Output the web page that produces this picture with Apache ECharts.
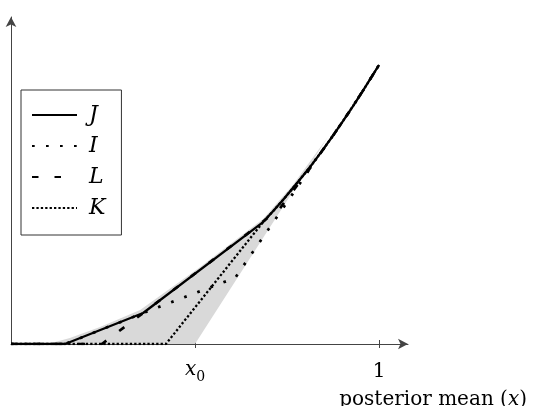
<!DOCTYPE html>
<html>
<head>
<meta charset="utf-8">
<script src="https://cdn.jsdelivr.net/npm/echarts@6/dist/echarts.min.js"></script>
<style>html,body{margin:0;padding:0;background:#fff}#c{width:533px;height:406px}</style>
</head>
<body>
<div id="c"></div>
<script>
// ---- data (x: posterior mean, y: value) ----
const jX = [0, 0.147, 0.359, 0.685, 0.712, 0.739, 0.766, 0.7935, 0.821, 0.848, 0.875, 0.902, 0.929, 0.9565, 1.0];
const jY = [0, 0, 0.111, 0.437, 0.476, 0.516, 0.559, 0.603, 0.649, 0.697, 0.747, 0.799, 0.852, 0.908, 1.0];
const iX = [0, 0.147, 0.359, 0.609, 0.800, 0.821, 0.848, 0.875, 0.902, 0.929, 0.9565, 1.0];
const iY = [0, 0, 0.111, 0.237, 0.604, 0.649, 0.697, 0.747, 0.799, 0.852, 0.908, 1.0];
const lX = [0, 0.247, 0.359, 0.663, 0.731, 0.8125, 0.848, 0.875, 0.902, 0.929, 0.9565, 1.0];
const lY = [0, 0, 0.111, 0.416, 0.487, 0.630, 0.697, 0.747, 0.799, 0.852, 0.908, 1.0];
const kX = [0, 0.421, 0.685, 0.712, 0.739, 0.766, 0.7935, 0.821, 0.848, 0.875, 0.902, 0.929, 0.9565, 1.0];
const kY = [0, 0, 0.437, 0.476, 0.516, 0.559, 0.603, 0.649, 0.697, 0.747, 0.799, 0.852, 0.908, 1.0];
// shaded region: upper-left boundary, then straight lower-right boundary
const gUpX = [0.087, 0.12, 0.16, 0.242, 0.351, 0.514, 0.685, 0.766, 0.861];
const gUpY = [0, 0.007, 0.0215, 0.061, 0.122, 0.276, 0.448, 0.570, 0.742];
const gLowX = [0.861, 0.5];
const gLowY = [0.742, 0];
const tickValues = [0.5, 1];
const seriesNames = ['J', 'I', 'L', 'K'];

function pairs(xs, ys) { return xs.map((x, k) => [x, ys[k]]); }

const serif = 'DejaVu Serif';
const chart = echarts.init(document.getElementById('c'), null, {renderer: 'canvas'});

const option = {
  animation: false,
  backgroundColor: '#fff',
  grid: {left: 11, top: 17, right: 125, bottom: 62, containLabel: false},
  xAxis: [{
    type: 'value', min: 0, max: 1.0788, position: 'bottom',
    axisLine: {show: true, symbol: ['none', 'arrow'], symbolSize: [8, 10],
      lineStyle: {color: '#444', width: 1}},
    axisTick: {show: true, customValues: tickValues, length: 4, lineStyle: {color: '#444', width: 1}},
    axisLabel: {show: true, customValues: tickValues, margin: 16,
      formatter: function (v) { return v === 1 ? '{n|1}' : '{i|x}{s|0}'; },
      rich: {
        n: {fontFamily: serif, fontSize: 20, color: '#000', lineHeight: 24},
        i: {fontFamily: serif, fontStyle: 'italic', fontSize: 20, color: '#000', lineHeight: 24, verticalAlign: 'top'},
        s: {fontFamily: serif, fontSize: 14, color: '#000', lineHeight: 14, verticalAlign: 'bottom', padding: [8, 0, 0, 0]}
      }},
    splitLine: {show: false}
  }, {
    type: 'value', min: 0, max: 1.0788, position: 'bottom', offset: 0,
    axisLine: {show: false},
    axisTick: {show: true, inside: true, customValues: tickValues, length: 4, lineStyle: {color: '#444', width: 1}},
    axisLabel: {show: false},
    splitLine: {show: false}
  }],
  yAxis: {
    type: 'value', min: 0, max: 1.172,
    axisLine: {show: true, symbol: ['none', 'arrow'], symbolSize: [8, 10],
      lineStyle: {color: '#444', width: 1}},
    axisTick: {show: false}, axisLabel: {show: false}, splitLine: {show: false}
  },
  title: {
    text: 'posterior mean ({x|x})', right: 1, top: 383,
    textStyle: {fontFamily: serif, fontSize: 20, fontWeight: 'normal', color: '#000', lineHeight: 24,
      rich: {x: {fontFamily: serif, fontStyle: 'italic', fontSize: 20, color: '#000', lineHeight: 24}}}
  },
  legend: {
    data: seriesNames, orient: 'vertical', left: 21, top: 90,
    padding: [13, 16, 15, 10], itemGap: 7, itemWidth: 45, itemHeight: 10,
    backgroundColor: '#fff', borderColor: '#333', borderWidth: 1, borderRadius: 0,
    itemStyle: {color: 'rgba(0,0,0,0)', borderWidth: 0, borderColor: 'rgba(0,0,0,0)'},
    textStyle: {fontFamily: serif, fontStyle: 'italic', fontSize: 22, color: '#000', lineHeight: 24, padding: [0, 0, 0, 7]}
  },
  series: [
    {
      type: 'custom', name: 'region', silent: true, z: 1,
      data: [0],
      renderItem: function (params, api) {
        const pts = pairs(gUpX, gUpY).concat(pairs(gLowX, gLowY)).map(p => api.coord(p));
        return {type: 'polygon', shape: {points: pts}, style: {fill: '#d9d9d9', stroke: null}};
      }
    },
    {type: 'line', name: 'K', data: pairs(kX, kY), symbol: 'none', z: 3,
      lineStyle: {color: '#000', width: 2.3, type: [2.3, 2.1]}},
    {type: 'line', name: 'I', data: pairs(iX, iY), symbol: 'none', z: 4,
      lineStyle: {color: '#000', width: 2.7, type: [2.7, 11.3]}},
    {type: 'line', name: 'L', data: pairs(lX, lY), symbol: 'none', z: 5,
      lineStyle: {color: '#000', width: 2.7, type: [6.5, 16]}},
    {type: 'line', name: 'J', data: pairs(jX, jY), symbol: 'none', z: 6,
      lineStyle: {color: '#000', width: 2.3}}
  ]
};
chart.setOption(option);
</script>
</body>
</html>
